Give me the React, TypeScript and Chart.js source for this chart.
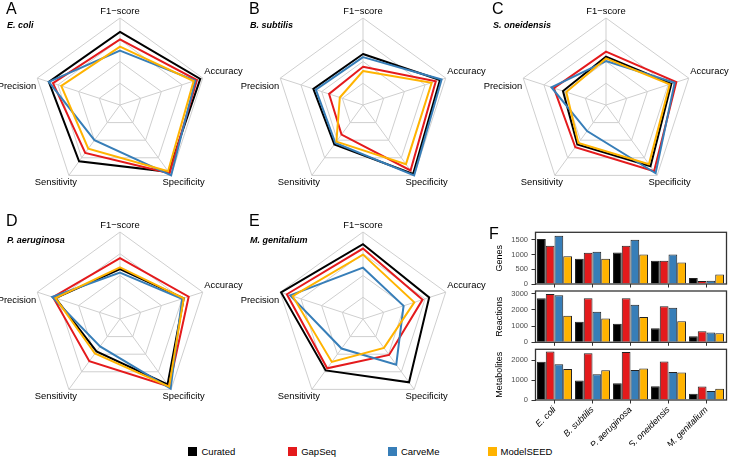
import React, { useEffect, useRef } from "react";
import { Chart, registerables } from "chart.js";

Chart.register(...registerables);
Chart.defaults.font.family = "'Liberation Sans', Arial, Helvetica, sans-serif";

// ---------- data ----------
const seriesNames = ["Curated", "GapSeq", "CarveMe", "ModelSEED"];
const seriesColors = ["#000000", "#E41A1C", "#377EB8", "#FFB300"];
const radarAxes = ["F1\u2212score", "Accuracy", "Specificity", "Sensitivity", "Precision"];

// radar scores (fraction of outer ring), order: Curated, GapSeq, CarveMe, ModelSEED
// axis order: F1-score, Accuracy, Specificity, Sensitivity, Precision
const ecoliScores = [
  [0.84, 0.97, 0.95, 0.8, 0.86],
  [0.755, 0.93, 0.97, 0.68, 0.81],
  [0.625, 0.91, 1.0, 0.5, 0.86],
  [0.67, 0.89, 0.94, 0.62, 0.71],
];
const bsubtilisScores = [
  [0.586, 0.93, 0.98, 0.56, 0.6],
  [0.44, 0.88, 0.93, 0.42, 0.41],
  [0.55, 0.95, 1.0, 0.54, 0.57],
  [0.39, 0.83, 0.84, 0.52, 0.28],
];
const soneidensisScores = [
  [0.556, 0.79, 0.87, 0.56, 0.52],
  [0.613, 0.85, 0.94, 0.6, 0.63],
  [0.506, 0.83, 0.97, 0.37, 0.66],
  [0.536, 0.77, 0.84, 0.54, 0.48],
];
const paeruginosaScores = [
  [0.575, 0.77, 0.93, 0.46, 0.78],
  [0.7, 0.83, 0.96, 0.6, 0.81],
  [0.533, 0.75, 0.99, 0.39, 0.82],
  [0.594, 0.77, 0.96, 0.49, 0.78],
];
const mgenitaliumScores = [
  [0.86, 0.8, 0.9, 0.73, 0.99],
  [0.81, 0.72, 0.51, 0.7, 0.92],
  [0.59, 0.49, 0.65, 0.42, 0.88],
  [0.74, 0.62, 0.41, 0.61, 0.85],
];

const organisms = ["E. coli", "B. subtilis", "P. aeruginosa", "S. oneidensis", "M. genitalium"];

const genesValues = [
  [1523, 852, 1068, 784, 205],
  [1295, 1057, 1295, 784, 102],
  [1636, 1091, 1500, 1000, 114],
  [943, 852, 1000, 727, 318],
];
const reactionsValues = [
  [2710, 1262, 1138, 869, 372],
  [2980, 2710, 2710, 2214, 683],
  [2897, 1883, 2317, 2131, 600],
  [1634, 1469, 1552, 1303, 559],
];
const metabolitesValues = [
  [1930, 985, 850, 695, 313],
  [2450, 2360, 2420, 1940, 680],
  [1810, 1300, 1510, 1420, 455],
  [1565, 1500, 1590, 1390, 574],
];
const genesTicks = [0, 500, 1000, 1500];
const reactionsTicks = [0, 1000, 2000, 3000];
const metabolitesTicks = [0, 1000, 2000];

// ---------- layout / style ----------
const FONT = "'Liberation Sans', Arial, Helvetica, sans-serif";
const R = 87;
const RADAR_W = 263;
const RADAR_H = 214;
const labelOffsets = [
  { dx: 0, dy: -6.5, align: "center" },
  { dx: 1.5, dy: -6.5, align: "left" },
  { dx: 12.5, dy: 7.5, align: "center" },
  { dx: -13, dy: 7.5, align: "center" },
  { dx: -1, dy: 8.5, align: "right" },
];

const radarLabelPlugin = {
  id: "radarLabels",
  afterDraw(chart: any) {
    const s = chart.scales.r;
    const ctx = chart.ctx;
    ctx.save();
    ctx.font = `9.4px ${FONT}`;
    ctx.fillStyle = "#000";
    ctx.textBaseline = "middle";
    chart.data.labels.forEach((lab: string, i: number) => {
      const p = s.getPointPosition(i, s.drawingArea);
      const o = labelOffsets[i];
      ctx.textAlign = o.align;
      ctx.fillText(lab, p.x + o.dx, p.y + o.dy);
    });
    ctx.restore();
  },
};

function RadarPanel({ scores, left, top, cx, cy }: any) {
  const ref = useRef<HTMLCanvasElement>(null);
  useEffect(() => {
    const chart = new Chart(ref.current as HTMLCanvasElement, {
      type: "radar",
      data: {
        labels: radarAxes,
        datasets: seriesNames.map((n, i) => ({
          label: n,
          data: scores[i],
          borderColor: seriesColors[i],
          backgroundColor: "transparent",
          borderWidth: 2,
          fill: false,
          pointRadius: 0,
          pointHoverRadius: 0,
          pointHitRadius: 0,
          order: 4 - i,
        })),
      },
      options: {
        responsive: false,
        animation: false,
        events: [],
        layout: {
          padding: {
            left: cx - R - left,
            right: RADAR_W - (cx + R - left),
            top: cy - R - top,
            bottom: RADAR_H - (cy + R - top),
          },
        },
        scales: {
          r: {
            min: 0,
            max: 1,
            ticks: { display: false, stepSize: 0.25 },
            grid: { color: "#cfcfcf", lineWidth: 1 },
            angleLines: { color: "#cfcfcf", lineWidth: 1 },
            pointLabels: { display: false },
          },
        },
        plugins: { legend: { display: false }, tooltip: { enabled: false } },
      } as any,
      plugins: [radarLabelPlugin],
    });
    return () => chart.destroy();
  }, []);
  return (
    <canvas
      ref={ref}
      width={RADAR_W}
      height={RADAR_H}
      style={{ position: "absolute", left, top, width: RADAR_W, height: RADAR_H }}
    />
  );
}

const boxPlugin = {
  id: "panelBox",
  afterDatasetsDraw(chart: any) {
    const { ctx, chartArea: a } = chart;
    ctx.save();
    ctx.strokeStyle = "#333333";
    ctx.lineWidth = 1.3;
    ctx.strokeRect(a.left, a.top, a.right + 1 - a.left, a.bottom - a.top);
    ctx.restore();
  },
};

const BAR_W = 243;
const BAR_LEFT = 486;
const AREA_LEFT = 49.5;
const AREA_RIGHT = 239.5;

function BarPanel({ title, values, ticks, yMax, top, height, areaTop, areaBottom, showLabels }: any) {
  const ref = useRef<HTMLCanvasElement>(null);
  useEffect(() => {
    const chart = new Chart(ref.current as HTMLCanvasElement, {
      type: "bar",
      data: {
        labels: organisms,
        datasets: seriesNames.map((n, i) => ({
          label: n,
          data: values[i],
          backgroundColor: seriesColors[i],
          borderColor: "#222222",
          borderWidth: 1,
          categoryPercentage: 0.92,
          barPercentage: 1,
        })),
      },
      options: {
        responsive: false,
        animation: false,
        events: [],
        layout: { padding: { left: 0, right: BAR_W - AREA_RIGHT, top: areaTop, bottom: 0 } },
        scales: {
          x: {
            type: "category",
            offset: true,
            afterFit: (s: any) => {
              s.height = height - areaBottom;
            },
            grid: { drawOnChartArea: false, drawTicks: true, tickLength: 3.5, color: "#333333", offset: false },
            border: { display: false },
            ticks: {
              display: showLabels,
              autoSkip: false,
              minRotation: 45,
              maxRotation: 45,
              padding: 1,
              color: "#000000",
              font: { size: 9, style: "italic" },
            },
          },
          y: {
            min: 0,
            max: yMax,
            afterBuildTicks: (s: any) => {
              s.ticks = ticks.map((v: number) => ({ value: v }));
            },
            afterFit: (s: any) => {
              s.width = AREA_LEFT;
            },
            grid: { drawOnChartArea: false, drawTicks: true, tickLength: 4, color: "#333333" },
            border: { display: false },
            ticks: {
              padding: 3.5,
              color: "#4d4d4d",
              font: { size: 7.5 },
              callback: (v: any) => String(v),
            },
            title: {
              display: true,
              text: title,
              color: "#000000",
              font: { size: 9 },
              padding: { top: 8, bottom: 0 },
            },
          },
        },
        plugins: { legend: { display: false }, tooltip: { enabled: false } },
      } as any,
      plugins: [boxPlugin],
    });
    return () => chart.destroy();
  }, []);
  return (
    <canvas
      ref={ref}
      width={BAR_W}
      height={height}
      style={{ position: "absolute", left: BAR_LEFT, top, width: BAR_W, height }}
    />
  );
}

function Txt({ x, baseline, size, children, weight, italic }: any) {
  return (
    <div
      style={{
        position: "absolute",
        left: x,
        top: baseline - 0.8465 * size,
        fontSize: size,
        lineHeight: 1,
        fontFamily: FONT,
        fontWeight: weight || "normal",
        fontStyle: italic ? "italic" : "normal",
        whiteSpace: "nowrap",
        color: "#000",
      }}
    >
      {children}
    </div>
  );
}

const radarPanels = [
  { letter: "A", species: organisms[0], scores: ecoliScores, col: 0, row: 0 },
  { letter: "B", species: organisms[1], scores: bsubtilisScores, col: 1, row: 0 },
  { letter: "C", species: organisms[3], scores: soneidensisScores, col: 2, row: 0 },
  { letter: "D", species: organisms[2], scores: paeruginosaScores, col: 0, row: 1 },
  { letter: "E", species: organisms[4], scores: mgenitaliumScores, col: 1, row: 1 },
];

export default function App() {
  const colX = [0, 243, 486];
  const centerX = [120, 363, 606];
  const rowY = [0, 214];
  const centerY = [105, 319];
  const letterBase = [15, 226.5];
  const speciesBase = [28.3, 243.3];
  return (
    <div style={{ position: "absolute", left: 0, top: 0, width: 729, height: 457, background: "#fff", overflow: "hidden" }}>
      {radarPanels.map((p) => (
        <React.Fragment key={p.letter}>
          <RadarPanel
            scores={p.scores}
            left={colX[p.col] - 10}
            top={rowY[p.row]}
            cx={centerX[p.col]}
            cy={centerY[p.row]}
          />
          <Txt x={colX[p.col] + 6} baseline={letterBase[p.row]} size={16}>
            {p.letter}
          </Txt>
          <Txt x={colX[p.col] + 7} baseline={speciesBase[p.row]} size={9} weight="bold" italic>
            {p.species}
          </Txt>
        </React.Fragment>
      ))}
      <Txt x={489} baseline={240} size={16}>
        F
      </Txt>
      <BarPanel title="Genes" values={genesValues} ticks={genesTicks} yMax={1750} top={224} height={68} areaTop={8.3} areaBottom={60.3} showLabels={false} />
      <BarPanel title="Reactions" values={reactionsValues} ticks={reactionsTicks} yMax={3160} top={283} height={68} areaTop={7.7} areaBottom={59.3} showLabels={false} />
      <BarPanel title="Metabolites" values={metabolitesValues} ticks={metabolitesTicks} yMax={2560} top={341} height={105} areaTop={8.3} areaBottom={59} showLabels={true} />
      {seriesNames.map((n, i) => (
        <React.Fragment key={n}>
          <div
            style={{
              position: "absolute",
              left: 188 + i * 100,
              top: 447,
              width: 9,
              height: 9,
              background: seriesColors[i],
            }}
          />
          <Txt x={201.5 + i * 99.7} baseline={455} size={9.5}>
            {n}
          </Txt>
        </React.Fragment>
      ))}
    </div>
  );
}
